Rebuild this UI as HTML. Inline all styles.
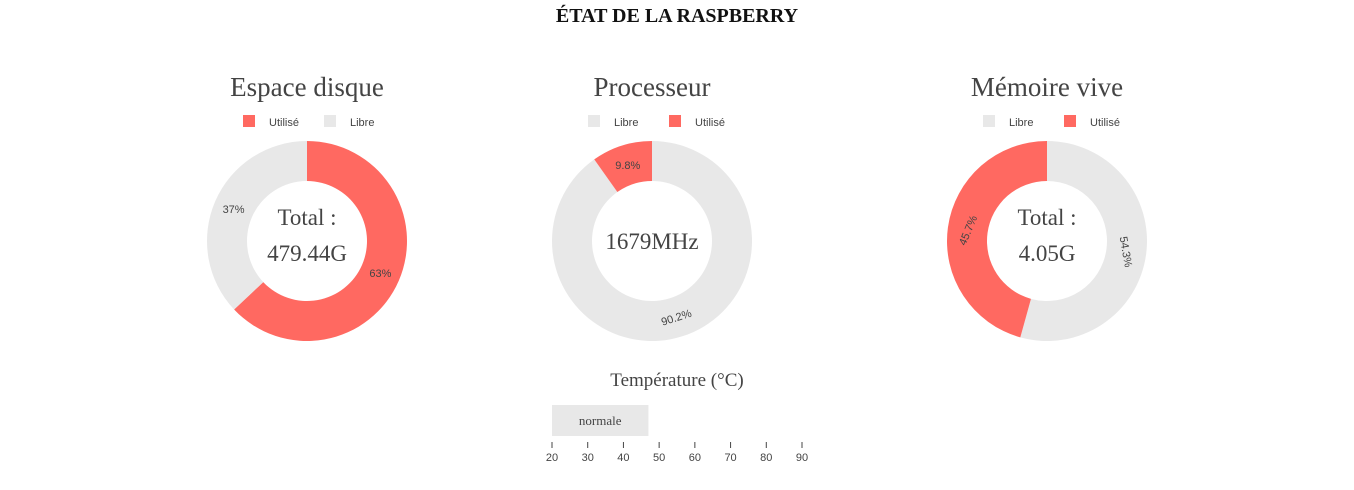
<!DOCTYPE html>
<html><head><meta charset="utf-8"><style>
body{margin:0;background:#fff;}
svg{display:block;}
.t{font-family:"Liberation Serif",serif;fill:#444;}
.s{font-family:"Liberation Sans",sans-serif;fill:#444;}
</style></head><body>
<svg id="c" width="1354" height="490" xmlns="http://www.w3.org/2000/svg">
<text x="677" y="22" text-anchor="middle" class="t" style="font-weight:bold;font-size:20px;fill:#111">ÉTAT DE LA RASPBERRY</text>
</svg>
<script>
const donutTitles=["Espace disque","Processeur","Mémoire vive"];
const donutLabels=[["Utilisé","Libre"],["Libre","Utilisé"],["Libre","Utilisé"]];
const donutValues=[[63,37],[90.2,9.8],[54.3,45.7]];
const donutText=["63%|37%","90.2%|9.8%","54.3%|45.7%"];
const centerText=[["Total :","479.44G"],["1679MHz"],["Total :","4.05G"]];
const tempCategory=["normale"];
const tempValue=[47];
const tempTicks=[20,30,40,50,60,70,80,90];
const NS="http://www.w3.org/2000/svg";
const svg=document.getElementById('c');
function mk(tag,attrs,parent){const e=document.createElementNS(NS,tag);for(const k in attrs)e.setAttribute(k,attrs[k]);(parent||svg).appendChild(e);return e;}
const cxs=[307,652,1047],cy=241,R=100,r=60;
function colorOf(l){return l==="Utilisé"?"#ff6961":"#e8e8e8";}
function pt(a,rad,cx){return [cx+rad*Math.sin(a),cy-rad*Math.cos(a)];}
donutTitles.forEach((title,i)=>{
  const cx=cxs[i];
  const t=mk('text',{x:cx,y:96,'text-anchor':'middle','class':'t','font-size':'27'});t.textContent=title;
  
  
  const lx=[cx-64,cx+17];
  donutLabels[i].forEach((l,j)=>{
    const rc=mk('rect',{x:lx[j],y:115,width:12,height:12,fill:colorOf(l)});
    
    
    const tx=mk('text',{x:lx[j]+26,y:126,'class':'s','font-size':'11'});tx.textContent=l;
    
    
  });
  const vals=donutValues[i];const tot=vals.reduce((a,b)=>a+b,0);
  const texts=donutText[i].split('|');
  let a0=0;
  vals.forEach((v,j)=>{
    const a1=a0+v/tot*2*Math.PI;
    const [x0,y0]=pt(a0,R,cx),[x1,y1]=pt(a1,R,cx),[x2,y2]=pt(a1,r,cx),[x3,y3]=pt(a0,r,cx);
    const lg=(a1-a0)>Math.PI?1:0;
    const p=mk('path',{d:`M${x0},${y0}A${R},${R} 0 ${lg} 1 ${x1},${y1}L${x2},${y2}A${r},${r} 0 ${lg} 0 ${x3},${y3}Z`,fill:colorOf(donutLabels[i][j])});
    
    
    const am=(a0+a1)/2;const [lx2,ly2]=pt(am,80,cx);
    let rot=0;const d=am*180/Math.PI;
    if(i===1&&v>20)rot=d-180;
    if(i===2)rot=(d>180?d-360:d)*0.82;
    const lt=mk('text',{x:lx2,y:ly2+4,'text-anchor':'middle','class':'s','font-size':'11',transform:`rotate(${rot} ${lx2} ${ly2})`});
    lt.textContent=texts[j];
    
    
    a0=a1;
  });
  const ct=centerText[i];
  ct.forEach((s,k)=>{
    const y=ct.length===1?249:225+k*36;
    const e=mk('text',{x:cx,y:y,'text-anchor':'middle','class':'t','font-size':'23'});e.textContent=s;
    
    
  });
});
const tt=mk('text',{x:677,y:386,'text-anchor':'middle','class':'t','font-size':'19'});tt.textContent="Température (°C)";


const xs=v=>552+(v-20)*250/70;
tempValue.forEach((v,i)=>{
  const b=mk('rect',{x:xs(20),y:405,width:xs(v)-xs(20),height:31,fill:'#e8e8e8'});
  
  
  const l=mk('text',{x:(xs(20)+xs(v))/2,y:425,'text-anchor':'middle','class':'t','font-size':'13'});l.textContent=tempCategory[i];
  
  
});
tempTicks.forEach(v=>{
  const k=mk('line',{x1:xs(v),x2:xs(v),y1:442,y2:448,stroke:'#444'});
  
  
  const l=mk('text',{x:xs(v),y:461,'text-anchor':'middle','class':'s','font-size':'11'});l.textContent=v;
  
  
});
</script>
</body></html>
